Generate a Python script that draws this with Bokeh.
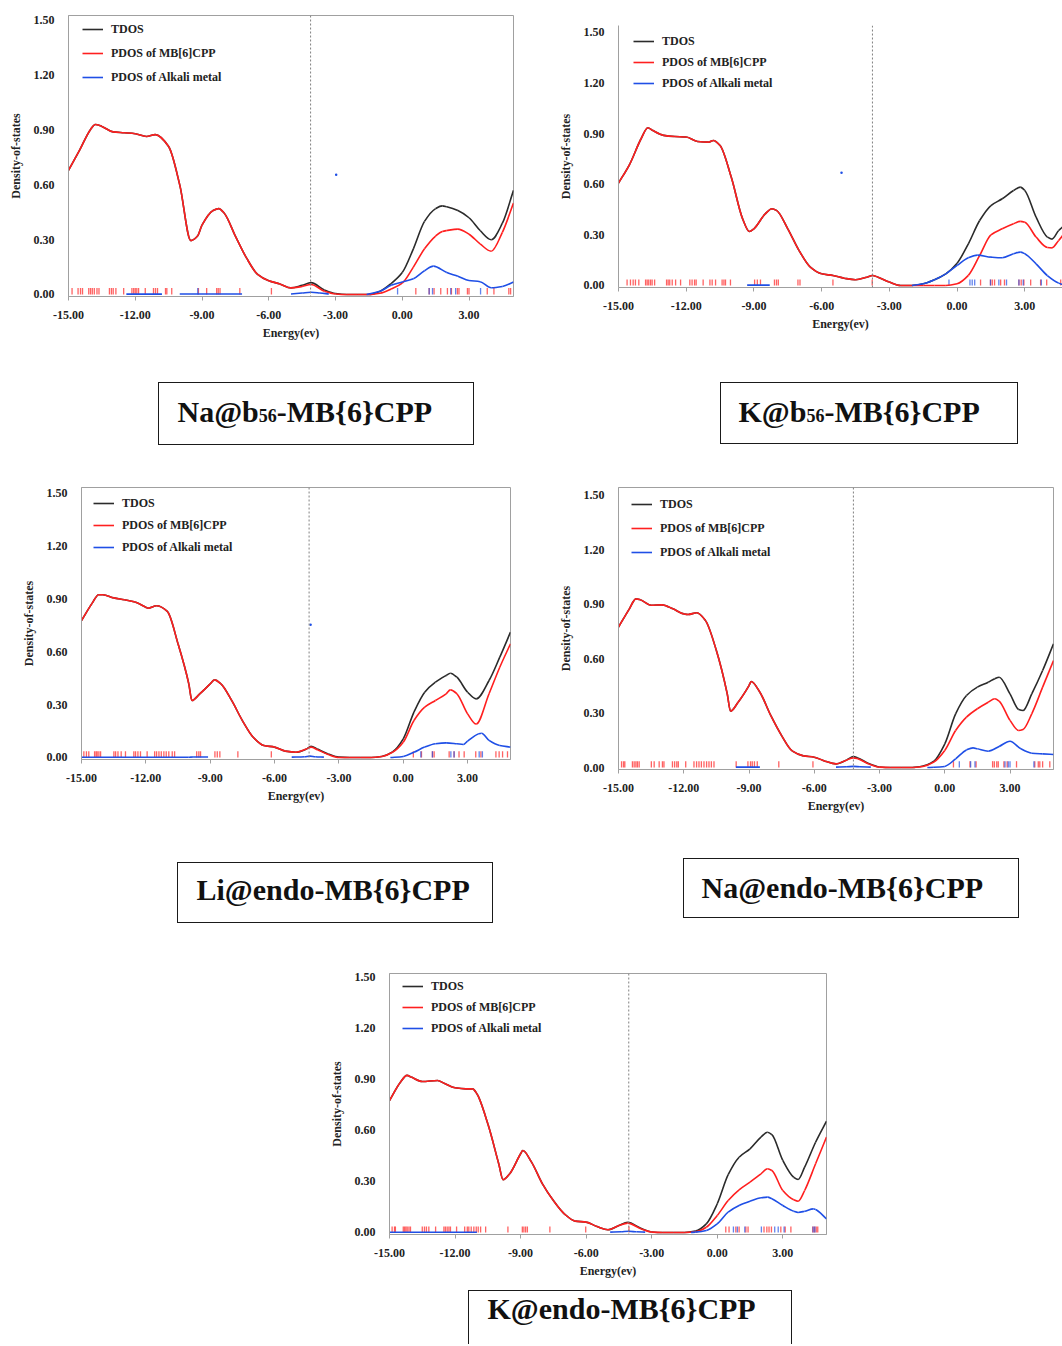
import math
from bokeh.plotting import figure
from bokeh.models import Range1d, FixedTicker, Span, Legend, LegendItem, Div, Spacer
from bokeh.layouts import row, column
from bokeh.embed import file_html
from bokeh.resources import INLINE

NAN = float("nan")

# ---------------- data ----------------
X_TICKS = [-15, -12, -9, -6, -3, 0, 3]
X_TICK_LABELS = ["-15.00", "-12.00", "-9.00", "-6.00", "-3.00", "0.00", "3.00"]
Y_TICKS = [0.0, 0.3, 0.6, 0.9, 1.2, 1.5]
Y_TICK_LABELS = ["0.00", "0.30", "0.60", "0.90", "1.20", "1.50"]
SERIES_NAMES = ["TDOS", "PDOS of MB[6]CPP", "PDOS of Alkali metal"]
X_TITLE = "Energy(ev)"
Y_TITLE = "Density-of-states"
PANEL_LABELS = [("Na@b", "56", "-MB{6}CPP"), ("K@b", "56", "-MB{6}CPP"),
                ("Li@endo-MB{6}CPP", "", ""), ("Na@endo-MB{6}CPP", "", ""),
                ("K@endo-MB{6}CPP", "", "")]
FERMI = [-4.12, -3.75, -4.39, -4.2, -4.05]

# Panel 1: Na@b56
E1 = [-15, -14.5, -14, -13.8, -13.5, -13, -12.5, -12, -11.5, -11.1, -10.5, -10, -9.5, -9.2, -9, -8.5, -8.25, -8, -7.5, -7, -6.5, -6, -5.5, -5, -4.5, -4.1, -3.5, -3, -2.5, -2, -1.5, -1, -0.5, 0, 0.5, 1, 1.5, 1.8, 2, 2.5, 3, 3.5, 4, 4.5, 5]
TDOS1 = [0.68, 0.79, 0.905, 0.93, 0.92, 0.89, 0.885, 0.88, 0.865, 0.875, 0.81, 0.60, 0.295, 0.32, 0.38, 0.46, 0.47, 0.445, 0.32, 0.20, 0.11, 0.075, 0.058, 0.036, 0.05, 0.065, 0.025, 0.005, 0.0, 0.0, 0.0, 0.018, 0.06, 0.12, 0.25, 0.40, 0.47, 0.485, 0.48, 0.46, 0.42, 0.35, 0.30, 0.39, 0.57]
MB1 = [0.68, 0.79, 0.905, 0.93, 0.92, 0.89, 0.885, 0.88, 0.865, 0.875, 0.81, 0.60, 0.295, 0.32, 0.38, 0.46, 0.47, 0.445, 0.32, 0.20, 0.11, 0.075, 0.058, 0.036, 0.044, 0.055, 0.018, 0.003, 0.0, 0.0, 0.0, 0.007, 0.03, 0.062, 0.15, 0.25, 0.32, 0.345, 0.35, 0.358, 0.33, 0.277, 0.237, 0.34, 0.50]
M_E1 = [-12.4, -10.8, -10.6, -10, -7.2, -7.0, -5, -4.5, -4.1, -3.7, -3.3, -3.1, -1.6, -1, -0.5, 0, 0.5, 1, 1.4, 2, 2.5, 3, 3.5, 4, 4.5, 5]
M1 = [0.002, 0.002, NAN, 0.003, 0.003, NAN, 0.003, 0.008, 0.012, 0.008, 0.003, NAN, 0.0, 0.018, 0.05, 0.068, 0.086, 0.13, 0.155, 0.12, 0.10, 0.077, 0.07, 0.037, 0.044, 0.068]
RUG_MB1 = [-14.84, -14.57, -14.46, -14.37, -14.09, -14.01, -13.93, -13.84, -13.72, -13.63, -13.16, -13.07, -12.99, -12.87, -12.52, -12.15, -12.07, -12.0, -11.93, -11.85, -11.55, -11.18, -11.09, -11.0, -10.64, -10.58, -10.36, -9.16, -8.79, -8.34, -8.27, -8.19, -7.3, -5.88, 0.61, 1.21, 1.43, 1.73, 2.03, 2.21, 2.48, 2.55, 2.93, 3.0, 3.82, 4.12, 4.79, 4.87]
RUG_M1 = [-9.19, -0.21, 1.21, 1.36, 2.18, 2.40, 3.52]

# Panel 2: K@b56
E2 = [-15, -14.5, -14, -13.7, -13.5, -13, -12.5, -12, -11.5, -11, -10.8, -10.5, -10, -9.5, -9.2, -9, -8.5, -8.2, -8, -7.5, -7, -6.5, -6, -5.5, -5, -4.5, -4, -3.75, -3.5, -3, -2.5, -2, -1.5, -1, -0.5, 0, 0.5, 1, 1.5, 2, 2.5, 2.8, 3, 3.5, 4, 4.2, 4.5, 4.7]
TDOS2 = [0.607, 0.72, 0.87, 0.935, 0.92, 0.89, 0.883, 0.88, 0.854, 0.85, 0.86, 0.83, 0.64, 0.395, 0.32, 0.336, 0.425, 0.455, 0.445, 0.336, 0.207, 0.109, 0.069, 0.059, 0.043, 0.034, 0.049, 0.059, 0.049, 0.02, 0.0, 0.0, 0.01, 0.034, 0.069, 0.132, 0.247, 0.385, 0.474, 0.514, 0.563, 0.583, 0.563, 0.405, 0.287, 0.275, 0.326, 0.35]
MB2 = [0.607, 0.72, 0.87, 0.935, 0.92, 0.89, 0.883, 0.88, 0.854, 0.85, 0.86, 0.83, 0.64, 0.395, 0.32, 0.336, 0.425, 0.455, 0.445, 0.336, 0.207, 0.109, 0.069, 0.059, 0.043, 0.034, 0.049, 0.059, 0.049, 0.02, 0.0, 0.0, 0.0, 0.0, 0.0, 0.01, 0.06, 0.178, 0.30, 0.336, 0.366, 0.38, 0.375, 0.287, 0.225, 0.223, 0.267, 0.30]
M_E2 = [-9.3, -8.3, -8.1, -2.0, -1.5, -1, -0.5, 0, 0.5, 0.9, 1.5, 2, 2.5, 2.8, 3, 3.5, 4, 4.5, 4.7]
M2 = [0.002, 0.002, NAN, 0.0, 0.01, 0.034, 0.069, 0.119, 0.164, 0.18, 0.168, 0.164, 0.188, 0.198, 0.188, 0.128, 0.059, 0.014, 0.005]
RUG_MB2 = [-14.62, -14.47, -14.35, -14.25, -14.10, -13.80, -13.73, -13.66, -13.58, -13.51, -13.40, -12.87, -12.80, -12.73, -12.62, -12.47, -12.25, -11.84, -11.74, -11.63, -11.56, -11.25, -10.95, -10.85, -10.70, -10.41, -10.33, -10.26, -10.04, -8.97, -8.85, -8.71, -8.09, -8.0, -7.92, -7.05, -6.96, -5.50, -3.76, 1.04, 1.48, 1.56, 1.66, 1.93, 2.10, 2.74, 2.84, 2.96, 3.26, 3.70, 3.97, 4.59]
RUG_M2 = [-0.36, 0.57, 0.67, 0.78, 1.48, 1.85, 2.19, 2.74, 2.93, 3.73]

# Panel 3: Li@endo
E3 = [-15, -14.5, -14.2, -14, -13.5, -13, -12.5, -12, -11.9, -11.5, -11, -10.5, -10, -9.85, -9.5, -9, -8.8, -8.5, -8, -7.5, -7, -6.5, -6, -5.5, -5, -4.5, -4.3, -4, -3.5, -3, -2.5, -2, -1.5, -1, -0.5, 0, 0.5, 1, 1.5, 2, 2.2, 2.5, 3, 3.4, 4, 4.5, 5]
TDOS3 = [0.778, 0.877, 0.925, 0.925, 0.907, 0.896, 0.883, 0.854, 0.848, 0.862, 0.83, 0.646, 0.42, 0.324, 0.36, 0.418, 0.441, 0.418, 0.324, 0.21, 0.116, 0.068, 0.059, 0.036, 0.03, 0.049, 0.064, 0.048, 0.02, 0.002, 0.0, 0.0, 0.0, 0.006, 0.032, 0.106, 0.258, 0.371, 0.428, 0.466, 0.479, 0.456, 0.371, 0.333, 0.4375, 0.57, 0.712]
MB3 = [0.778, 0.877, 0.925, 0.925, 0.907, 0.896, 0.883, 0.854, 0.848, 0.862, 0.83, 0.646, 0.42, 0.324, 0.36, 0.418, 0.441, 0.418, 0.324, 0.21, 0.116, 0.068, 0.059, 0.036, 0.03, 0.049, 0.059, 0.044, 0.017, 0.0, 0.0, 0.0, 0.0, 0.006, 0.03, 0.087, 0.21, 0.286, 0.324, 0.362, 0.384, 0.362, 0.248, 0.19, 0.362, 0.513, 0.646]
M_E3 = [-15, -10, -9.8, -9.1, -8.9, -5.2, -4.6, -4.35, -4.1, -3.7, -3.5, -0.6, 0, 0.5, 1, 1.5, 2, 2.5, 2.8, 3, 3.5, 3.65, 4, 4.5, 5]
M3 = [0.001, 0.001, 0.003, 0.003, NAN, 0.002, 0.004, 0.008, 0.004, 0.002, NAN, 0.0, 0.006, 0.03, 0.059, 0.078, 0.083, 0.078, 0.074, 0.093, 0.134, 0.138, 0.097, 0.068, 0.059]
RUG_MB3 = [-14.89, -14.77, -14.66, -14.39, -14.32, -14.27, -14.19, -14.11, -13.49, -13.41, -13.30, -13.15, -12.95, -12.56, -12.48, -12.37, -12.25, -11.94, -11.59, -11.50, -11.39, -11.28, -11.16, -11.05, -10.93, -10.77, -10.66, -9.63, -9.53, -9.45, -8.78, -8.67, -8.55, -7.71, -6.15, 0.47, 0.85, 1.36, 1.44, 2.14, 2.37, 2.60, 2.84, 3.38, 3.62, 4.32, 4.47, 4.63, 4.86]
RUG_M3 = [0.82, 1.36, 2.22, 2.37, 3.54, 3.69]

# Panel 4: Na@endo
E4 = [-15, -14.5, -14.2, -14, -13.5, -13, -12.5, -12, -11.8, -11.4, -11, -10.5, -10, -9.85, -9.5, -9, -8.9, -8.5, -8, -7.5, -7, -6.5, -6, -5.5, -5, -4.5, -4.2, -4, -3.5, -3, -2.5, -2, -1.5, -1, -0.5, 0, 0.5, 1, 1.5, 2, 2.3, 2.5, 3, 3.4, 3.6, 4, 4.5, 5]
TDOS4 = [0.774, 0.875, 0.93, 0.925, 0.895, 0.897, 0.875, 0.847, 0.844, 0.853, 0.81, 0.645, 0.406, 0.31, 0.36, 0.452, 0.474, 0.415, 0.287, 0.176, 0.09, 0.064, 0.057, 0.035, 0.02, 0.042, 0.06, 0.053, 0.022, 0.003, 0.0, 0.0, 0.0, 0.008, 0.035, 0.13, 0.296, 0.397, 0.443, 0.47, 0.49, 0.498, 0.406, 0.32, 0.314, 0.406, 0.535, 0.682]
MB4 = [0.774, 0.875, 0.93, 0.925, 0.895, 0.897, 0.875, 0.847, 0.844, 0.853, 0.81, 0.645, 0.406, 0.31, 0.36, 0.452, 0.474, 0.415, 0.287, 0.176, 0.09, 0.064, 0.057, 0.035, 0.02, 0.042, 0.053, 0.048, 0.02, 0.002, 0.0, 0.0, 0.0, 0.006, 0.03, 0.094, 0.204, 0.278, 0.324, 0.36, 0.379, 0.366, 0.26, 0.204, 0.21, 0.296, 0.443, 0.59]
M_E4 = [-9.6, -8.5, -8.3, -5.0, -4.5, -4.2, -3.9, -3.4, -3.2, -0.8, -0.5, 0, 0.5, 1, 1.3, 1.5, 2, 2.5, 3, 3.5, 4, 4.5, 5]
M4 = [0.002, 0.002, NAN, 0.002, 0.004, 0.006, 0.004, 0.002, NAN, 0.0, 0.001, 0.006, 0.048, 0.097, 0.108, 0.103, 0.09, 0.116, 0.145, 0.103, 0.079, 0.075, 0.072]
RUG_MB4 = [-14.86, -14.77, -14.71, -14.36, -14.28, -14.20, -14.13, -14.05, -13.49, -13.36, -13.13, -12.98, -12.91, -12.52, -12.42, -12.32, -12.25, -11.91, -11.53, -11.41, -11.30, -11.19, -11.07, -10.95, -10.84, -10.73, -10.61, -9.59, -9.05, -8.93, -8.85, -8.75, -8.62, -7.63, -6.06, 0.40, 1.16, 1.44, 2.20, 2.28, 2.39, 2.46, 2.72, 2.87, 3.30, 4.14, 4.30, 4.37, 4.50, 4.83]
RUG_M4 = [0.67, 1.19, 1.39, 2.77, 2.92, 3.00, 4.10]

# Panel 5: K@endo
E5 = [-15, -14.5, -14.2, -14, -13.5, -12.8, -12.5, -12, -11.5, -11.2, -11, -10.5, -10, -9.8, -9.5, -9, -8.9, -8.5, -8, -7.5, -7, -6.5, -6, -5.5, -5, -4.5, -4.1, -3.5, -3, -2.5, -2, -1.5, -1, -0.5, 0, 0.5, 1, 1.5, 2, 2.3, 2.5, 3, 3.5, 3.7, 4, 4.5, 5]
TDOS5 = [0.776, 0.884, 0.924, 0.914, 0.888, 0.894, 0.878, 0.851, 0.845, 0.845, 0.816, 0.639, 0.404, 0.31, 0.345, 0.463, 0.482, 0.414, 0.286, 0.188, 0.11, 0.067, 0.061, 0.035, 0.016, 0.041, 0.06, 0.025, 0.003, 0.0, 0.0, 0.0, 0.008, 0.051, 0.169, 0.34, 0.443, 0.492, 0.561, 0.59, 0.576, 0.424, 0.325, 0.312, 0.384, 0.531, 0.655]
MB5 = [0.776, 0.884, 0.924, 0.914, 0.888, 0.894, 0.878, 0.851, 0.845, 0.845, 0.816, 0.639, 0.404, 0.31, 0.345, 0.463, 0.482, 0.414, 0.286, 0.188, 0.11, 0.067, 0.061, 0.035, 0.016, 0.041, 0.055, 0.022, 0.002, 0.0, 0.0, 0.0, 0.004, 0.031, 0.1, 0.188, 0.251, 0.296, 0.345, 0.375, 0.365, 0.247, 0.192, 0.184, 0.247, 0.404, 0.561]
M_E5 = [-15, -11, -10.8, -4.9, -4.4, -4.05, -3.7, -3.3, -3.1, -1.2, -1, -0.5, 0, 0.5, 1, 1.5, 2, 2.3, 2.5, 3, 3.5, 3.7, 4, 4.4, 4.5, 5]
M5 = [0.001, 0.001, NAN, 0.002, 0.004, 0.007, 0.004, 0.002, NAN, 0.0, 0.002, 0.012, 0.051, 0.12, 0.159, 0.184, 0.204, 0.208, 0.198, 0.159, 0.125, 0.118, 0.125, 0.139, 0.135, 0.08]
RUG_MB5 = [-14.88, -14.77, -14.73, -14.37, -14.31, -14.25, -14.19, -14.11, -14.04, -13.50, -13.40, -13.31, -13.20, -12.89, -12.51, -12.44, -12.36, -12.28, -12.21, -11.93, -11.56, -11.44, -11.37, -11.26, -11.14, -11.03, -10.94, -10.83, -10.60, -9.58, -8.92, -8.85, -8.77, -8.69, -7.66, -6.02, -4.04, 0.39, 0.54, 0.85, 1.00, 1.31, 1.41, 2.14, 2.27, 2.37, 2.48, 2.91, 3.11, 3.37, 4.37, 4.45, 4.53, 4.60]
RUG_M5 = [0.74, 0.92, 1.26, 2.02, 2.63, 2.79, 3.06, 4.39, 4.47]

# stray single points visible in three panels
STRAY_E = [[-2.97], [-5.12], [-4.32], [], []]
STRAY_V = [[0.655], [0.668], [0.754], [], []]

# ---------------- style ----------------
FONT = "Liberation Serif"
C_T = "#2b2b2b"
C_MB = "#ff1f1f"
C_M = "#1f4fe6"
AX = "#a0a0a0"
RUG_H = 0.035
LW = 1.6


def is_nan(v):
    return v is None or (isinstance(v, float) and math.isnan(v))


def smooth_segments(xs, ys):
    """Bezier pieces through the read points (monotone cubic tangents), like a
    spreadsheet 'smoothed line'; NaN values split the series into runs."""
    out = {k: [] for k in ("x0", "y0", "x1", "y1", "cx0", "cy0", "cx1", "cy1")}
    runs, cur = [], []
    for x, y in zip(xs, ys):
        if is_nan(y):
            if cur:
                runs.append(cur)
            cur = []
        else:
            cur.append((x, y))
    if cur:
        runs.append(cur)
    for run in runs:
        n = len(run)
        if n < 2:
            continue
        h = [run[k + 1][0] - run[k][0] for k in range(n - 1)]
        d = [(run[k + 1][1] - run[k][1]) / h[k] for k in range(n - 1)]
        m = [0.0] * n
        m[0], m[-1] = d[0], d[-1]
        for k in range(1, n - 1):
            if d[k - 1] * d[k] <= 0:
                m[k] = 0.0
            else:
                w1 = 2 * h[k] + h[k - 1]
                w2 = h[k] + 2 * h[k - 1]
                m[k] = (w1 + w2) / (w1 / d[k - 1] + w2 / d[k])
        for k in range(n - 1):
            (xa, ya), (xb, yb) = run[k], run[k + 1]
            out["x0"].append(xa); out["y0"].append(ya)
            out["x1"].append(xb); out["y1"].append(yb)
            out["cx0"].append(xa + h[k] / 3); out["cy0"].append(ya + m[k] * h[k] / 3)
            out["cx1"].append(xb - h[k] / 3); out["cy1"].append(yb - m[k + 1] * h[k] / 3)
    return out


def make_panel(i, E, T, MB, ME, M, rug_mb, rug_m, geo):
    (W, H, bl, br, bt, bb, fh, xend, ymin, ymax, lx, ltop, lsp) = geo
    p = figure(width=W, height=H, x_range=Range1d(-15, xend), y_range=Range1d(ymin, ymax),
               output_backend="svg", toolbar_location=None, frame_align=False,
               min_border_left=bl, min_border_right=br, min_border_top=bt, min_border_bottom=bb)
    p.background_fill_color = "white"
    p.border_fill_color = "white"
    p.outline_line_color = AX
    p.xgrid.visible = False
    p.ygrid.visible = False

    xa = p.xaxis[0]
    xa.ticker = FixedTicker(ticks=X_TICKS)
    xa.major_label_overrides = dict(zip(X_TICKS, X_TICK_LABELS))
    xa.axis_label = X_TITLE
    ya = p.yaxis[0]
    ya.ticker = FixedTicker(ticks=Y_TICKS)
    ya.major_label_overrides = dict(zip(Y_TICKS, Y_TICK_LABELS))
    ya.axis_label = Y_TITLE
    for ax in (xa, ya):
        ax.axis_line_color = AX
        ax.major_tick_line_color = AX
        ax.minor_tick_line_color = None
        ax.major_label_text_font = FONT
        ax.major_label_text_font_style = "bold"
        ax.major_label_text_font_size = "12px"
        ax.major_label_text_color = "#222222"
        ax.axis_label_text_font = FONT
        ax.axis_label_text_font_style = "bold"
        ax.axis_label_text_font_size = "12px"
        ax.axis_label_text_color = "#222222"
    xa.major_tick_out = 4
    xa.major_tick_in = 0
    xa.major_label_standoff = 10
    xa.axis_label_standoff = 4
    ya.major_tick_out = 0
    ya.major_tick_in = 0
    ya.major_label_standoff = 14
    ya.axis_label_standoff = 8

    p.segment(x0=rug_mb, y0=0, x1=rug_mb, y1=RUG_H, line_color=C_MB, line_alpha=0.7, line_width=1.3)
    p.segment(x0=rug_m, y0=0, x1=rug_m, y1=RUG_H, line_color=C_M, line_alpha=0.7, line_width=1.3)

    renderers = []
    for xs, ys, col in ((E, T, C_T), (E, MB, C_MB), (ME, M, C_M)):
        seg = smooth_segments(xs, ys)
        p.bezier(line_color=col, line_width=LW, **seg)
        # legend sample: a one-point line renderer (draws nothing in the plot)
        x_first = next(x for x, y in zip(xs, ys) if not is_nan(y))
        y_first = next(y for y in ys if not is_nan(y))
        renderers.append(p.line(x=[x_first], y=[y_first], line_color=col, line_width=LW))

    if STRAY_E[i]:
        p.scatter(STRAY_E[i], STRAY_V[i], size=2.5, color=C_M, line_color=None)

    p.add_layout(Span(location=FERMI[i], dimension="height", line_color="#808080",
                      line_dash="2 2", line_width=1))

    leg_h = 3 * 20 + 2 * lsp
    legend = Legend(items=[LegendItem(label=SERIES_NAMES[k], renderers=[renderers[k]]) for k in range(3)],
                    location=(lx, fh - ltop - leg_h), orientation="vertical",
                    spacing=lsp, padding=0, margin=0,
                    glyph_width=21, glyph_height=20, label_height=20, label_standoff=8,
                    label_text_font=FONT, label_text_font_style="bold",
                    label_text_font_size="12px", label_text_color="#222222",
                    border_line_color=None, background_fill_alpha=0)
    p.add_layout(legend)
    return p


def label_div(parts, w, h, pad_left, baseline, bottom=True):
    fs = 30
    border = "1.5px solid #1a1a1a"
    bbor = border if bottom else "none"
    pad_top = baseline - 25 - 1.5
    sub = f'<span style="font-size:18px">{parts[1]}</span>' if parts[1] else ""
    html = (f'<div style="box-sizing:border-box;width:{w}px;height:{h}px;border:{border};'
            f'border-bottom:{bbor};padding:{pad_top}px 0 0 {pad_left - 1.5}px;'
            f"font-family:'{FONT}',serif;font-weight:bold;font-size:{fs}px;line-height:{fs}px;"
            f'color:#111111;white-space:nowrap;overflow:hidden">{parts[0]}{sub}{parts[2]}</div>')
    return Div(text=html, width=w, height=h, margin=0)


# geometry (page pixels): W, H, min_border l, r, t, b, frame height, x end, y min, y max,
# legend x, legend top, legend spacing
G1 = (545, 360, 68, 32, 15, 64, 281, 5.0, -0.011, 1.527, 14, 4, 4)
G2 = (517, 360, 73, 0, 25, 73, 262, 4.67, -0.012, 1.5415, 15, 6, 1)
G3 = (545, 362, 81, 35, 9, 81, 272, 5.0, -0.0114, 1.534, 12, 6, 2)
G4 = (517, 362, 73, 9, 9, 71, 282, 5.0, -0.011, 1.544, 13, 7, 4)
G5 = (526, 325, 69, 20, 13, 51, 261, 5.0, -0.0118, 1.5235, 13, 3, 1)

p1 = make_panel(0, E1, TDOS1, MB1, M_E1, M1, RUG_MB1, RUG_M1, G1)
p2 = make_panel(1, E2, TDOS2, MB2, M_E2, M2, RUG_MB2, RUG_M2, G2)
p3 = make_panel(2, E3, TDOS3, MB3, M_E3, M3, RUG_MB3, RUG_M3, G3)
p4 = make_panel(3, E4, TDOS4, MB4, M_E4, M4, RUG_MB4, RUG_M4, G4)
p5 = make_panel(4, E5, TDOS5, MB5, M_E5, M5, RUG_MB5, RUG_M5, G5)
p2.outline_line_color = None

d1 = label_div(PANEL_LABELS[0], 316, 63, 20, 40)
d2 = label_div(PANEL_LABELS[1], 298, 62, 19, 40)
d3 = label_div(PANEL_LABELS[2], 316, 61, 20, 38)
d4 = label_div(PANEL_LABELS[3], 336, 60, 19, 40)
d5 = label_div(PANEL_LABELS[4], 324, 54, 20, 29, bottom=False)

row1 = row(p1, p2)
row2 = row(Spacer(width=158, height=118),
           column(Spacer(width=316, height=22), d1, Spacer(width=316, height=33)),
           Spacer(width=246, height=118),
           column(Spacer(width=298, height=22), d2, Spacer(width=298, height=34)))
row3 = row(p3, p4)
row4 = row(Spacer(width=177, height=120),
           column(Spacer(width=316, height=22), d3, Spacer(width=316, height=37)),
           Spacer(width=190, height=120),
           column(Spacer(width=336, height=18), d4, Spacer(width=336, height=42)))
row5 = row(Spacer(width=320, height=325), p5)
row6 = row(Spacer(width=468, height=59),
           column(Spacer(width=324, height=5), d5))

layout = column(row1, row2, row3, row4, row5, row6)

open("out.html", "w").write(file_html(layout, INLINE, title="DOS"))
